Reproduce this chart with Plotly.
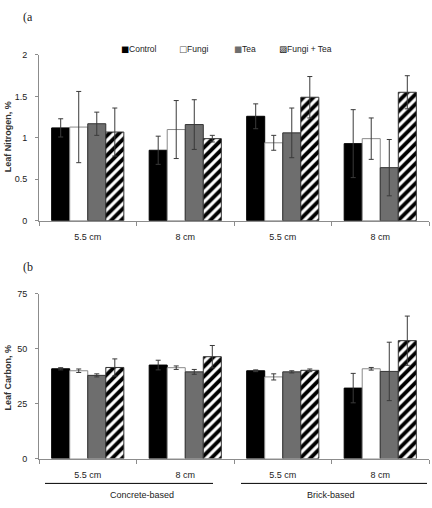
import plotly.graph_objects as go

categories = ["c1", "c2", "c3", "c4"]
tick_labels = ["5.5 cm", "8 cm", "5.5 cm", "8 cm"]
group_labels = ["Concrete-based", "Brick-based"]
series = ["Control", "Fungi", "Tea", "Fungi + Tea"]

nitrogen = {
    "Control": [1.12, 0.85, 1.26, 0.93],
    "Fungi": [1.13, 1.10, 0.94, 0.99],
    "Tea": [1.17, 1.16, 1.06, 0.64],
    "Fungi + Tea": [1.07, 0.99, 1.49, 1.55],
}
nitrogen_err = {
    "Control": [0.11, 0.17, 0.15, 0.41],
    "Fungi": [0.43, 0.35, 0.09, 0.25],
    "Tea": [0.14, 0.30, 0.30, 0.34],
    "Fungi + Tea": [0.29, 0.04, 0.25, 0.20],
}
carbon = {
    "Control": [40.9, 42.6, 40.0, 32.1],
    "Fungi": [40.0, 41.4, 37.2, 40.9],
    "Tea": [37.9, 39.5, 39.5, 39.7],
    "Fungi + Tea": [41.5, 46.4, 40.2, 53.7],
}
carbon_err = {
    "Control": [0.5, 2.2, 0.4, 6.7],
    "Fungi": [0.8, 0.8, 1.4, 0.6],
    "Tea": [0.7, 1.1, 0.5, 13.3],
    "Fungi + Tea": [3.9, 5.1, 0.6, 11.2],
}

styles = {
    "Control": dict(color="#000000", line=dict(color="#000000", width=1)),
    "Fungi": dict(color="#ffffff", line=dict(color="#8a8a8a", width=1)),
    "Tea": dict(color="#6e6e6e", line=dict(color="#333333", width=1)),
    "Fungi + Tea": dict(color="#ffffff", line=dict(color="#333333", width=1),
                        pattern=dict(shape="/", fgcolor="#000000", bgcolor="#ffffff",
                                     fgopacity=1, size=7, solidity=0.55)),
}
legend_glyphs = {
    "Control": ("\u25A0", "#000000"),
    "Fungi": ("\u25A1", "#555555"),
    "Tea": ("\u25A0", "#6e6e6e"),
    "Fungi + Tea": ("\u25A8", "#000000"),
}
legend_x = {"Control": 119, "Fungi": 177, "Tea": 232, "Fungi + Tea": 277}

W, H = 432, 508
FONT = "Liberation Sans, Arial, sans-serif"

fig = go.Figure()
for s in series:
    fig.add_trace(go.Bar(
        x=categories, y=nitrogen[s], name=s, marker=styles[s],
        error_y=dict(type="data", array=nitrogen_err[s], color="#3a3a3a",
                     thickness=1, width=2.5),
        xaxis="x", yaxis="y", showlegend=False,
    ))
for s in series:
    fig.add_trace(go.Bar(
        x=categories, y=carbon[s], name=s, marker=styles[s],
        error_y=dict(type="data", array=carbon_err[s], color="#3a3a3a",
                     thickness=1, width=2.5),
        xaxis="x2", yaxis="y2", showlegend=False,
    ))

def py(p):
    return 1 - p / H

def px(p):
    return p / W

xdom = [px(39), px(429)]
axis_common = dict(showline=True, linecolor="#8c8c8c", linewidth=1,
                   showgrid=False, zeroline=False,
                   tickfont=dict(family=FONT, size=9, color="#222"))

fig.update_layout(
    width=W, height=H,
    margin=dict(l=0, r=0, t=0, b=0),
    paper_bgcolor="white", plot_bgcolor="white",
    barmode="group", bargap=0.26, bargroupgap=0,
    showlegend=False,
    xaxis=dict(domain=xdom, anchor="y", type="category", tickmode="array",
               tickvals=categories, ticktext=tick_labels, tickson="boundaries",
               ticks="outside", ticklen=4, tickcolor="#8c8c8c",
               ticklabelstandoff=8, **axis_common),
    yaxis=dict(domain=[py(220), py(51)], anchor="x", range=[0, 2],
               tickvals=[0, 0.5, 1, 1.5, 2], ticktext=["0", "0.5", "1", "1.5", "2"],
               ticks="outside", ticklen=3, tickcolor="#8c8c8c",
               ticklabelstandoff=6, **axis_common),
    xaxis2=dict(domain=xdom, anchor="y2", type="category", tickmode="array",
                tickvals=categories, ticktext=tick_labels, tickson="boundaries",
                ticks="outside", ticklen=4, tickcolor="#8c8c8c",
                ticklabelstandoff=8, **axis_common),
    yaxis2=dict(domain=[py(462.7), py(294.7)], anchor="x2", range=[0, 75],
                tickvals=[0, 25, 50, 75], ticks="outside", ticklen=3,
                tickcolor="#8c8c8c", ticklabelstandoff=6, **axis_common),
)

ann = [
    dict(text="(a", x=px(21), y=py(12), xanchor="left", yanchor="middle",
         font=dict(family="Liberation Serif, serif", size=12, color="#222")),
    dict(text="(b", x=px(21), y=py(267), xanchor="left", yanchor="middle",
         font=dict(family="Liberation Serif, serif", size=12, color="#222")),
    dict(text="<b>Leaf Nitrogen, %</b>", x=px(8), y=py(135), textangle=-90,
         xanchor="center", yanchor="middle",
         font=dict(family=FONT, size=9, color="#333")),
    dict(text="<b>Leaf Carbon, %</b>", x=px(8), y=py(380), textangle=-90,
         xanchor="center", yanchor="middle",
         font=dict(family=FONT, size=9, color="#333")),
    dict(text=group_labels[0], x=px(142), y=py(500), xanchor="center", yanchor="middle",
         font=dict(family=FONT, size=9, color="#222")),
    dict(text=group_labels[1], x=px(331), y=py(500), xanchor="center", yanchor="middle",
         font=dict(family=FONT, size=9, color="#222")),
]
for s in series:
    g, c = legend_glyphs[s]
    ann.append(dict(
        text=f'<span style="color:{c};font-family:DejaVu Sans">{g}</span>{s}',
        x=px(legend_x[s]), y=py(45), xanchor="left", yanchor="middle",
        font=dict(family=FONT, size=8.5, color="#222")))
for a in ann:
    a.update(xref="paper", yref="paper", showarrow=False)
fig.update_layout(annotations=ann)

fig.update_layout(shapes=[
    dict(type="line", xref="paper", yref="paper", x0=px(45), x1=px(213),
         y0=py(488), y1=py(488), line=dict(color="#000", width=1)),
    dict(type="line", xref="paper", yref="paper", x0=px(241), x1=px(427),
         y0=py(488), y1=py(488), line=dict(color="#000", width=1)),
])

fig.write_html("out.html")
